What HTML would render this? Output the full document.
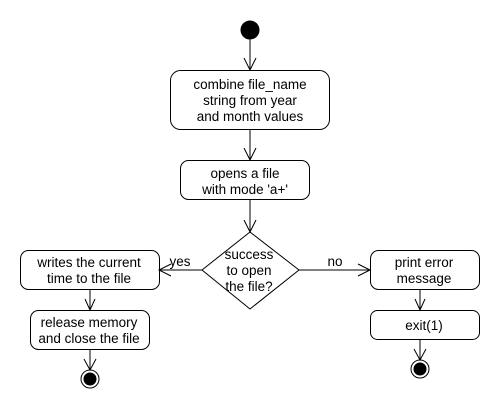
<!DOCTYPE html>
<html><head><style>body{margin:0;background:#fff}svg{display:block}</style></head>
<body>
<svg width="500" height="410" xmlns="http://www.w3.org/2000/svg" font-family="Liberation Sans, sans-serif" font-size="13.5" fill="none" stroke="#000" stroke-width="1">
<circle cx="250" cy="30" r="9" fill="#000"/>
<line x1="250" y1="39" x2="250" y2="70"/><path d="M244,58 L250,70 L256,58"/>
<rect x="170.5" y="70.5" width="159" height="59" rx="10"/>
<line x1="250" y1="130" x2="250" y2="160"/><path d="M244,148 L250,160 L256,148"/>
<rect x="180.5" y="160.5" width="129" height="39" rx="8"/>
<line x1="250" y1="200" x2="250" y2="232"/><path d="M244,220 L250,232 L256,220"/>
<polygon points="250,232 299,270 250,309 202,270"/>
<line x1="202" y1="270" x2="159" y2="270"/><path d="M171,264 L159,270 L171,276"/>
<line x1="299" y1="270" x2="370" y2="270"/><path d="M358,264 L370,270 L358,276"/>
<rect x="20.5" y="250.5" width="139" height="39" rx="8"/>
<line x1="90" y1="290" x2="90" y2="310"/><path d="M85,299 L90,310 L95,299"/>
<rect x="30.5" y="310.5" width="119" height="39" rx="8"/>
<line x1="90" y1="350" x2="90" y2="370"/><path d="M84,359 L90,370 L96,359"/>
<circle cx="90" cy="379" r="9"/><circle cx="90" cy="379" r="6" fill="#000"/>
<rect x="370.5" y="250.5" width="109" height="39" rx="8"/>
<line x1="420" y1="290" x2="420" y2="310"/><path d="M415,299 L420,310 L425,299"/>
<rect x="370.5" y="310.5" width="109" height="29" rx="7"/>
<line x1="420" y1="340" x2="420" y2="360"/><path d="M414,349 L420,360 L426,349"/>
<circle cx="420" cy="369" r="9"/><circle cx="420" cy="369" r="6" fill="#000"/>
<g fill="#000" stroke="none" text-anchor="middle">
<text x="250" y="89">combine file_name</text>
<text x="250" y="105">string from year</text>
<text x="250" y="121">and month values</text>
<text x="245" y="178">opens a file</text>
<text x="245" y="194">with mode 'a+'</text>
<text x="249" y="259">success</text>
<text x="249" y="275">to open</text>
<text x="249" y="291">the file?</text>
<text x="89" y="267">writes the current</text>
<text x="89" y="283">time to the file</text>
<text x="89" y="327">release memory</text>
<text x="89" y="343">and close the file</text>
<text x="424" y="267">print error</text>
<text x="424" y="283">message</text>
<text x="424" y="330">exit(1)</text>
<text x="180" y="266">yes</text>
<text x="335" y="266">no</text>
</g>
</svg>
</body></html>
